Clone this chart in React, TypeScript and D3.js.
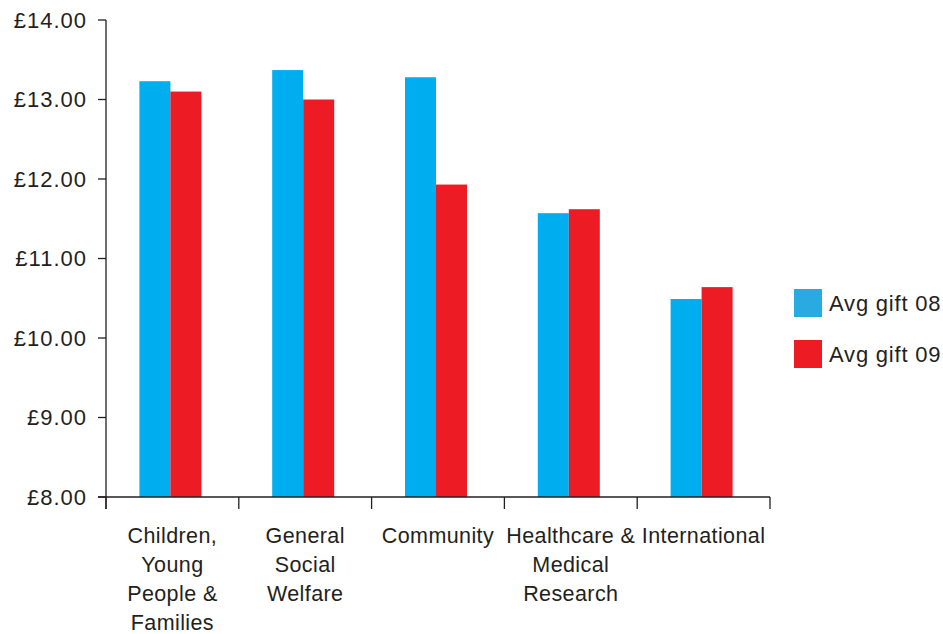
import React from "react";
import * as d3 from "d3";

const categories: string[][] = [
  ["Children,", "Young", "People &", "Families"],
  ["General", "Social", "Welfare"],
  ["Community"],
  ["Healthcare &", "Medical", "Research"],
  ["International"],
];
const series = ["Avg gift 08", "Avg gift 09"];
const avg08 = [13.23, 13.37, 13.28, 11.57, 10.49];
const avg09 = [13.1, 13.0, 11.93, 11.62, 10.64];
const yTicks = [8, 9, 10, 11, 12, 13, 14];

const W = 943;
const H = 634;
const BLUE = "#00AEEF";
const RED = "#ED1C24";
const LEG_BLUE = "#29ABE2";
const INK = "#231F20";
const FONT = "'Liberation Sans', Arial, Helvetica, sans-serif";

export default function App() {
  const left = 106;
  const right = 770;
  const top = 20;
  const bottom = 497;
  const x = d3
    .scaleBand<number>()
    .domain(categories.map((_, i) => i))
    .range([left, right])
    .padding(0);
  const y = d3.scaleLinear().domain([8, 14]).range([bottom, top]);
  const barW = 31;
  const values = [avg08, avg09];
  const colors = [BLUE, RED];
  const legendColors = [LEG_BLUE, RED];

  return (
    <svg
      width={W}
      height={H}
      style={{ position: "absolute", left: 0, top: 0, background: "#fff" }}
      fontFamily={FONT}
    >
      {categories.map((_, i) => {
        const cx = (x(i) as number) + x.bandwidth() / 2 - 2;
        return values.map((vals, s) => (
          <rect
            key={`${i}-${s}`}
            x={cx - barW + s * barW}
            y={y(vals[i])}
            width={barW}
            height={bottom - y(vals[i])}
            fill={colors[s]}
          />
        ));
      })}
      <line x1={left} x2={left} y1={top} y2={bottom + 12} stroke={INK} strokeWidth={1.3} />
      {yTicks.map((t) => (
        <g key={t}>
          <line x1={left - 8} x2={left} y1={y(t)} y2={y(t)} stroke={INK} strokeWidth={1.3} />
          <text
            x={87}
            y={y(t)}
            textAnchor="end"
            dominantBaseline="central"
            fontSize={22}
            letterSpacing={1}
            fill={INK}
          >
            {`£${t.toFixed(2)}`}
          </text>
        </g>
      ))}
      <line x1={left - 8} x2={right} y1={bottom} y2={bottom} stroke={INK} strokeWidth={1.3} />
      {d3.range(categories.length + 1).map((i) => {
        const xx = i < categories.length ? (x(i) as number) : right;
        return (
          <line key={i} x1={xx} x2={xx} y1={bottom} y2={bottom + 12} stroke={INK} strokeWidth={1.3} />
        );
      })}
      {categories.map((lines, i) => {
        const cx = (x(i) as number) + x.bandwidth() / 2;
        return (
          <text key={i} textAnchor="middle" fontSize={21.5} letterSpacing={0.4} fill={INK}>
            {lines.map((l, k) => (
              <tspan key={k} x={cx} y={543 + k * 29}>
                {l}
              </tspan>
            ))}
          </text>
        );
      })}
      {series.map((s, k) => (
        <g key={s} transform={`translate(794, ${289 + k * 51})`}>
          <rect x={0} y={0} width={28} height={28} fill={legendColors[k]} />
          <text
            x={35}
            y={14}
            dominantBaseline="central"
            fontSize={22}
            letterSpacing={0.8}
            fill={INK}
          >
            {s}
          </text>
        </g>
      ))}
    </svg>
  );
}
